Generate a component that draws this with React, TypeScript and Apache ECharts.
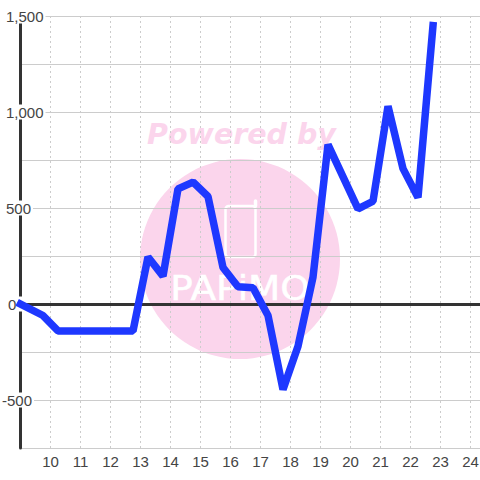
import React, { useEffect, useRef } from "react";
import * as echarts from "echarts";

const hours = [9, 9.75, 10.25, 12.75, 13.25, 13.75, 14.25, 14.75, 15.25, 15.75, 16.25, 16.75, 17.25, 17.75, 18.25, 18.75, 19.25, 20.25, 20.75, 21.25, 21.75, 22.25, 22.75];
const values = [0, -60, -140, -140, 245, 145, 600, 635, 560, 190, 90, 85, -60, -445, -220, 140, 830, 495, 535, 1030, 705, 555, 1450];
const watermarkTitle = "Powered by";
const watermarkLogo = "PAPiMO";

export default function App() {
  const ref = useRef<HTMLDivElement>(null);
  useEffect(() => {
    document.body.style.margin = "0";
    const chart = echarts.init(ref.current!, undefined, { renderer: "svg" });
    const font = "'Liberation Sans', Arial, sans-serif";
    chart.setOption({
      animation: false,
      backgroundColor: "#ffffff",
      grid: { left: 20.5, top: 16, width: 480, height: 432, containLabel: false, outerBoundsMode: "none" },
      graphic: {
        elements: [
          { type: "circle", z: -5, silent: true, shape: { cx: 240, cy: 259, r: 100 }, style: { fill: "#fbd5ec" } },
          { type: "text", z: -5, silent: true, x: 241.5, y: 134, style: { text: watermarkTitle, fill: "#fbd5ec", font: "italic bold 28.5px 'DejaVu Sans'", textAlign: "center", textVerticalAlign: "middle" } },
          { type: "rect", z: -4, silent: true, shape: { x: 225.5, y: 206, width: 30, height: 51, r: 3 }, style: { fill: "none", stroke: "#ffffff", lineWidth: 2.5 } },
          { type: "line", z: -4, silent: true, shape: { x1: 255.5, y1: 206, x2: 255.5, y2: 201 }, style: { stroke: "#ffffff", lineWidth: 3.5, lineCap: "round" } },
          { type: "text", z: -4, silent: true, x: 240, y: 288, scaleX: 1.1, style: { text: watermarkLogo, fill: "#ffffff", stroke: "#ffffff", lineWidth: 0.5, font: "34px 'DejaVu Sans'", textAlign: "center", textVerticalAlign: "middle" } },
        ],
      },
      xAxis: [
        {
          type: "value", min: 9, max: 25, interval: 1,
          axisLine: { show: false }, axisTick: { show: false },
          axisLabel: {
            color: "#444", fontFamily: font, fontSize: 15, margin: 6, showMinLabel: false, showMaxLabel: false,
            formatter: (v: number) => String(v),
          },
          splitLine: { show: true, lineStyle: { color: "#cccccc", width: 1, type: [2, 3] } },
        },
      ],
      yAxis: {
        type: "value", min: -750, max: 1500, interval: 250,
        axisLine: { show: true, onZero: false, lineStyle: { color: "#333", width: 3 } },
        axisTick: { show: false },
        splitLine: { show: true, lineStyle: { color: "#cccccc", width: 1 } },
        axisLabel: {
          align: "left", margin: 18.5, color: "#444", fontFamily: font, fontSize: 15,
          showMinLabel: true,
          formatter: (v: number) => {
            if (v % 500 !== 0) return "";
            if (v === 0) return "{z|0}";
            if (v < 0) return "{n|" + v + "}";
            return "{p|" + v.toLocaleString("en-US") + "}";
          },
          rich: {
            z: { backgroundColor: "#fff", color: "#444", fontFamily: font, fontSize: 15, lineHeight: 16, padding: [0, 8, 0, 6] },
            n: { backgroundColor: "#fff", color: "#444", fontFamily: font, fontSize: 15, lineHeight: 16, padding: [0, 2, 0, 0] },
            p: { backgroundColor: "#fff", color: "#444", fontFamily: font, fontSize: 15, lineHeight: 16, padding: [0, 2, 0, 4] },
          },
        },
      },
      series: [
        {
          type: "line",
          data: hours.map((h, i) => [h, values[i]]),
          showSymbol: false,
          smooth: false,
          clip: false,
          lineStyle: { color: "#1e38ff", width: 7.5, join: "bevel", cap: "square" },
          markLine: {
            silent: true, symbol: "none", label: { show: false }, z: 1,
            lineStyle: { color: "#333", width: 3, type: "solid" },
            data: [{ yAxis: 0 }],
          },
          z: 5,
        },
      ],
    });
    return () => chart.dispose();
  }, []);
  return <div ref={ref} style={{ width: 480, height: 480 }} />;
}
